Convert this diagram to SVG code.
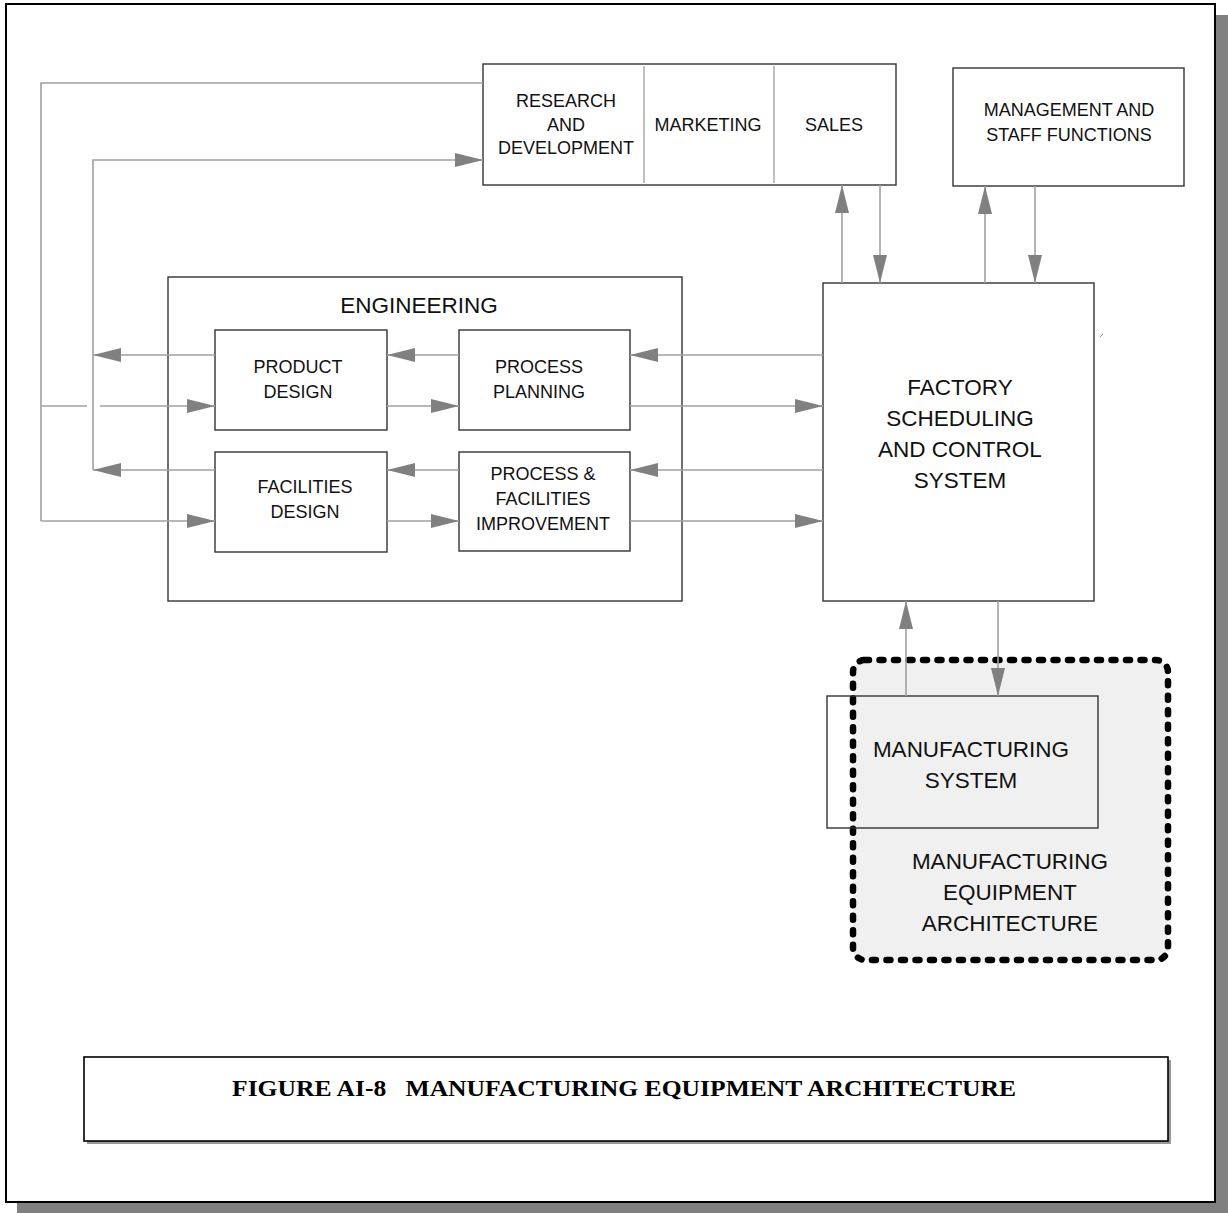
<svg xmlns="http://www.w3.org/2000/svg" width="1228" height="1213" viewBox="0 0 1228 1213">
  <defs>
    <style>
      .box { fill: none; stroke: #333; stroke-width: 1.4; }
      .div { stroke: #aaa; stroke-width: 1.5; }
      .lbl { font-family: "Liberation Sans", Arial, sans-serif; fill: #111; text-anchor: middle; }
      .s18 { font-size: 18px; }
      .s22 { font-size: 22.5px; }
      .wire { fill: none; stroke: #a0a0a0; stroke-width: 1.6; }
      .arr { marker-end: url(#head); }
    </style>
    <marker id="head" markerUnits="userSpaceOnUse" markerWidth="28" markerHeight="14" refX="28" refY="7" orient="auto">
      <path d="M0,0 L28,7 L0,14 Z" fill="#808080"/>
    </marker>
  </defs>

  <!-- page with drop shadow -->
  <rect x="17" y="15" width="1211" height="1198" fill="#808080"/>
  <rect x="6" y="4" width="1209" height="1198" fill="#fff" stroke="#000" stroke-width="2"/>

  <!-- equipment architecture region (drawn beneath the nodes) -->
  <g id="equipment-architecture">
    <rect x="853" y="660" width="315" height="300" rx="12" ry="12" fill="#f0f0f0" stroke="#000" stroke-width="6.5" stroke-linecap="round" stroke-dasharray="4 10.5"/>
    <text class="lbl s22" x="1010" y="869">MANUFACTURING</text>
    <text class="lbl s22" x="1010" y="900">EQUIPMENT</text>
    <text class="lbl s22" x="1010" y="931">ARCHITECTURE</text>
  </g>

  <g id="rd-marketing-sales">
    <rect class="box" x="483" y="64" width="413" height="121"/>
    <line class="div" x1="644" y1="66" x2="644" y2="183"/>
    <line class="div" x1="774" y1="66" x2="774" y2="183"/>
    <text class="lbl s18" x="566" y="107">RESEARCH</text>
    <text class="lbl s18" x="566" y="131">AND</text>
    <text class="lbl s18" x="566" y="154">DEVELOPMENT</text>
    <text class="lbl s18" x="708" y="131">MARKETING</text>
    <text class="lbl s18" x="834" y="131">SALES</text>
  </g>

  <g id="management">
    <rect class="box" x="953" y="68" width="231" height="118"/>
    <text class="lbl s18" x="1069" y="116">MANAGEMENT AND</text>
    <text class="lbl s18" x="1069" y="141">STAFF FUNCTIONS</text>
  </g>

  <g id="engineering">
    <rect class="box" x="168" y="277" width="514" height="324"/>
    <text class="lbl s22" x="419" y="313">ENGINEERING</text>
  </g>

  <g id="product-design">
    <rect class="box" x="215" y="330" width="172" height="100"/>
    <text class="lbl s18" x="298" y="373">PRODUCT</text>
    <text class="lbl s18" x="298" y="398">DESIGN</text>
  </g>

  <g id="facilities-design">
    <rect class="box" x="215" y="452" width="172" height="100"/>
    <text class="lbl s18" x="305" y="493">FACILITIES</text>
    <text class="lbl s18" x="305" y="518">DESIGN</text>
  </g>

  <g id="process-planning">
    <rect class="box" x="459" y="330" width="171" height="100"/>
    <text class="lbl s18" x="539" y="373">PROCESS</text>
    <text class="lbl s18" x="539" y="398">PLANNING</text>
  </g>

  <g id="process-facilities-improvement">
    <rect class="box" x="459" y="452" width="171" height="99"/>
    <text class="lbl s18" x="543" y="480">PROCESS &amp;</text>
    <text class="lbl s18" x="543" y="505">FACILITIES</text>
    <text class="lbl s18" x="543" y="530">IMPROVEMENT</text>
  </g>

  <g id="factory-scheduling">
    <rect class="box" x="823" y="283" width="271" height="318"/>
    <text class="lbl s22" x="960" y="395">FACTORY</text>
    <text class="lbl s22" x="960" y="426">SCHEDULING</text>
    <text class="lbl s22" x="960" y="457">AND CONTROL</text>
    <text class="lbl s22" x="960" y="488">SYSTEM</text>
    <line x1="1100" y1="337" x2="1103" y2="334" stroke="#999" stroke-width="1"/>
  </g>

  <g id="manufacturing-system">
    <rect class="box" x="827" y="696" width="271" height="132"/>
    <text class="lbl s22" x="971" y="757">MANUFACTURING</text>
    <text class="lbl s22" x="971" y="788">SYSTEM</text>
  </g>

  <g id="connectors">
    <!-- outer feedback loop from R&D -->
    <polyline class="wire" points="483,83 41,83 41,521"/>
    <polyline class="wire arr" points="41,521 215,521"/>
    <line class="wire" x1="41" y1="406" x2="87" y2="406"/>
    <line class="wire arr" x1="100" y1="406" x2="215" y2="406"/>
    <!-- inner loop back to R&D -->
    <polyline class="wire arr" points="93,470 93,160 483,160"/>
    <line class="wire arr" x1="215" y1="355" x2="93" y2="355"/>
    <line class="wire arr" x1="215" y1="470" x2="93" y2="470"/>
    <!-- between engineering boxes -->
    <line class="wire arr" x1="387" y1="406" x2="459" y2="406"/>
    <line class="wire arr" x1="459" y1="355" x2="387" y2="355"/>
    <line class="wire arr" x1="459" y1="470" x2="387" y2="470"/>
    <line class="wire arr" x1="387" y1="521" x2="459" y2="521"/>
    <!-- engineering to factory scheduling -->
    <line class="wire arr" x1="823" y1="355" x2="630" y2="355"/>
    <line class="wire arr" x1="630" y1="406" x2="823" y2="406"/>
    <line class="wire arr" x1="823" y1="470" x2="630" y2="470"/>
    <line class="wire arr" x1="630" y1="521" x2="823" y2="521"/>
    <!-- sales and management -->
    <line class="wire arr" x1="842" y1="283" x2="842" y2="185"/>
    <line class="wire arr" x1="880" y1="185" x2="880" y2="283"/>
    <line class="wire arr" x1="985" y1="283" x2="985" y2="186"/>
    <line class="wire arr" x1="1035" y1="186" x2="1035" y2="283"/>
    <!-- factory scheduling to manufacturing system -->
    <line class="wire arr" x1="906" y1="696" x2="906" y2="601"/>
    <line class="wire arr" x1="998" y1="601" x2="998" y2="696"/>
  </g>

  <g id="caption">
    <rect x="87" y="1060" width="1084" height="84" fill="#999"/>
    <rect x="84" y="1057" width="1084" height="84" fill="#fff" stroke="#000" stroke-width="1.6"/>
    <text x="232" y="1096" font-family="'Liberation Serif', 'Times New Roman', serif" font-weight="bold" font-size="23" fill="#000" textLength="784" lengthAdjust="spacingAndGlyphs" xml:space="preserve">FIGURE AI-8   MANUFACTURING EQUIPMENT ARCHITECTURE</text>
  </g>
</svg>
